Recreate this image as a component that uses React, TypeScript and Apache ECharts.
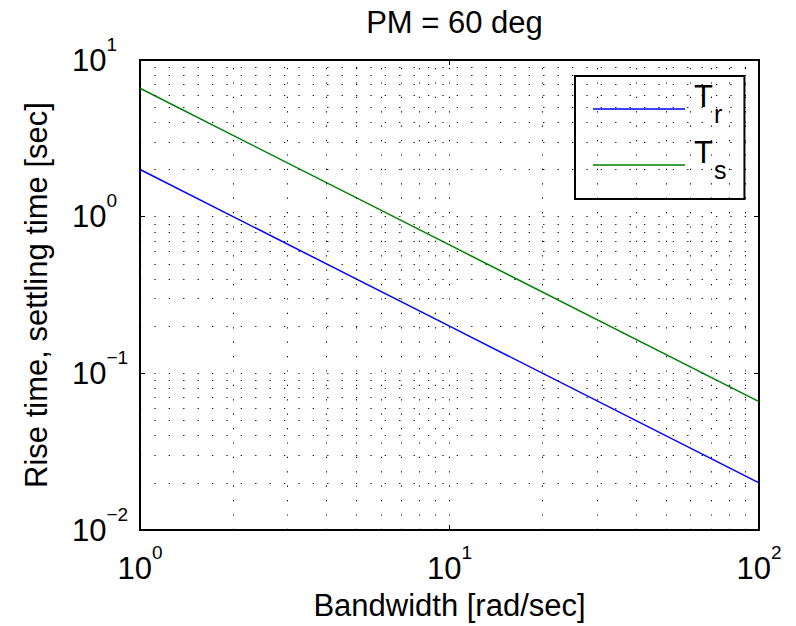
import React, { useEffect, useRef } from "react";
import * as echarts from "echarts";

// Data
const bandwidth = [1, 10, 100];
const riseTime = [2.0, 0.2, 0.02];
const settlingTime = [6.6, 0.66, 0.066];

const seriesNames = ["Tr", "Ts"];
const legendSubscripts: Record<string, string> = { Tr: "r", Ts: "s" };

// Tick labels (base 10 with exponent)
const xTickValues = [1, 10, 100];
const xTickExponents = ["0", "1", "2"];
const yTickValues = [0.01, 0.1, 1, 10];
const yTickExponents = ["\u22122", "\u22121", "0", "1"];

// Grid lines (minor + major) of the log-log plot
const xGridValues = [2, 3, 4, 5, 6, 7, 8, 9, 10, 20, 30, 40, 50, 60, 70, 80, 90];
const yGridValues = [
  0.02, 0.03, 0.04, 0.05, 0.06, 0.07, 0.08, 0.09, 0.1,
  0.2, 0.3, 0.4, 0.5, 0.6, 0.7, 0.8, 0.9, 1,
  2, 3, 4, 5, 6, 7, 8, 9,
];

const titleText = "PM = 60 deg";
const xName = "Bandwidth [rad/sec]";
const yName = "Rise time, settling time [sec]";

const FONT = "Liberation Sans, Arial, Helvetica, sans-serif";

function tickLabel(values: number[], exps: string[]) {
  return (v: number) => {
    let idx = -1;
    for (let i = 0; i < values.length; i++) {
      if (Math.abs(Math.log10(v) - Math.log10(values[i])) < 1e-6) idx = i;
    }
    if (idx < 0) return "";
    return "{b|10}{s|" + exps[idx] + "}";
  };
}

const richTick = {
  b: { fontSize: 31, fontFamily: FONT, color: "#000" },
  s: { fontSize: 19, fontFamily: FONT, color: "#000", padding: [0, 0, 32, 0] },
};

export default function App() {
  const ref = useRef<HTMLDivElement>(null);
  useEffect(() => {
    document.body.style.margin = "0";
    const chart = echarts.init(ref.current!, null, { renderer: "svg" });
    const gridStyle = { type: [1.2, 13.2], color: "#000", width: 1.1 };
    const option: any = {
      animation: false,
      backgroundColor: "#fff",
      title: {
        text: titleText,
        left: 449.5,
        top: 2,
        textAlign: "center",
        textStyle: { fontSize: 31, fontWeight: "normal", fontFamily: FONT, color: "#000" },
      },
      grid: {
        left: 140,
        top: 60,
        width: 619,
        height: 473,
        show: true,
        borderColor: "#000",
        borderWidth: 2,
        backgroundColor: "#fff",
        containLabel: false,
      },
      legend: {
        orient: "vertical",
        left: 575,
        top: 76,
        padding: [5, 18, 17, 18],
        itemGap: 11,
        itemWidth: 92,
        itemHeight: 1.5,
        icon: "rect",
        borderColor: "#000",
        borderWidth: 2,
        backgroundColor: "#fff",
        data: seriesNames,
        formatter: (name: string) => "{T|T}{s|" + legendSubscripts[name] + "}",
        textStyle: {
          rich: {
            T: { fontSize: 31, fontFamily: FONT, color: "#000", padding: [0, 0, 25, 4] },
            s: { fontSize: 25, fontFamily: FONT, color: "#000", padding: [9, 0, 0, 1] },
          },
        },
      },
      xAxis: [
        {
          type: "log",
          logBase: 10,
          min: 1,
          max: 100,
          position: "bottom",
          name: xName,
          nameLocation: "middle",
          nameGap: 60,
          nameTextStyle: { fontSize: 31, fontFamily: FONT, color: "#000" },
          axisLine: { show: false },
          axisTick: { show: true, inside: true, length: 5, lineStyle: { color: "#000", width: 1 } },
          axisLabel: {
            margin: 13,
            formatter: tickLabel(xTickValues, xTickExponents),
            rich: richTick,
            showMinLabel: true,
            showMaxLabel: true,
          },
          splitLine: { show: false },
        },
        {
          type: "log",
          logBase: 10,
          min: 1,
          max: 100,
          position: "top",
          axisLine: { show: false },
          axisTick: { show: true, inside: true, length: 5, lineStyle: { color: "#000", width: 1 } },
          axisLabel: { show: false },
          splitLine: { show: false },
        },
      ],
      yAxis: [
        {
          type: "log",
          logBase: 10,
          min: 0.01,
          max: 10,
          position: "left",
          name: yName,
          nameLocation: "middle",
          nameGap: 88,
          nameTextStyle: { fontSize: 31, fontFamily: FONT, color: "#000" },
          axisLine: { show: false },
          axisTick: { show: true, inside: true, length: 5, lineStyle: { color: "#000", width: 1 } },
          axisLabel: {
            margin: 68,
            align: "left",
            formatter: tickLabel(yTickValues, yTickExponents),
            rich: richTick,
            showMinLabel: true,
            showMaxLabel: true,
          },
          splitLine: { show: false },
        },
        {
          type: "log",
          logBase: 10,
          min: 0.01,
          max: 10,
          position: "right",
          axisLine: { show: false },
          axisTick: { show: true, inside: true, length: 5, lineStyle: { color: "#000", width: 1 } },
          axisLabel: { show: false },
          splitLine: { show: false },
        },
      ],
      series: [
        {
          name: seriesNames[0],
          type: "line",
          data: bandwidth.map((x, i) => [x, riseTime[i]]),
          symbol: "none",
          lineStyle: { color: "#0000ff", width: 1.5 },
          itemStyle: { color: "#0000ff" },
          z: 3,
          markLine: {
            silent: true,
            symbol: ["none", "none"],
            label: { show: false },
            lineStyle: gridStyle,
            emphasis: { disabled: true },
            data: [
              ...xGridValues.map((v) => ({ xAxis: v })),
              ...yGridValues.map((v) => ({ yAxis: v })),
            ],
          },
        },
        {
          name: seriesNames[1],
          type: "line",
          data: bandwidth.map((x, i) => [x, settlingTime[i]]),
          symbol: "none",
          lineStyle: { color: "#008000", width: 1.5 },
          itemStyle: { color: "#008000" },
          z: 3,
        },
      ],
    };
    chart.setOption(option);
    return () => chart.dispose();
  }, []);
  return <div ref={ref} style={{ width: 796, height: 626 }} />;
}
